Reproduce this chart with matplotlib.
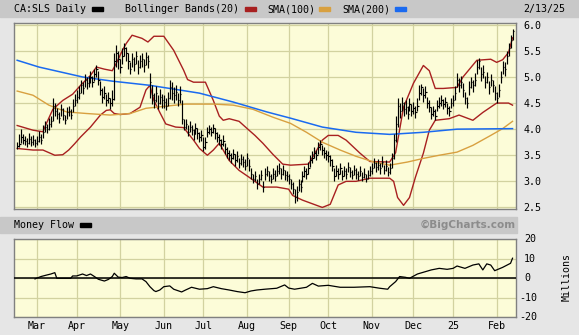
import numpy as np
import pandas as pd
import matplotlib
matplotlib.use("Agg")
import matplotlib.pyplot as plt
from matplotlib.patches import Rectangle

# TSX trading calendar, Feb 15 2024 .. Feb 13 2025
HOLIDAYS = ["2024-02-19", "2024-03-29", "2024-05-20", "2024-07-01", "2024-08-05",
            "2024-09-02", "2024-10-14", "2024-12-25", "2024-12-26", "2025-01-01"]
MONTH_LABELS = ["Mar", "Apr", "May", "Jun", "Jul", "Aug", "Sep", "Oct", "Nov", "Dec", "25", "Feb"]

# daily bars (low, high, close)
feb24 = [(3.62, 3.76, 3.68), (3.66, 3.90, 3.72), (3.74, 4.00, 3.85), (3.72, 3.90, 3.80), (3.70, 3.86, 3.78),
         (3.66, 3.84, 3.74), (3.72, 3.92, 3.82), (3.68, 3.86, 3.76), (3.70, 3.88, 3.79), (3.66, 3.82, 3.73)]
mar24 = [(3.70, 3.86, 3.78), (3.76, 3.96, 3.85), (3.72, 3.90, 3.80), (3.84, 4.08, 3.95), (3.95, 4.15, 4.05),
         (3.92, 4.10, 4.00), (3.98, 4.22, 4.10), (4.05, 4.25, 4.15), (4.15, 4.60, 4.45), (4.25, 4.50, 4.35),
         (4.20, 4.40, 4.30), (4.12, 4.32, 4.22), (4.25, 4.48, 4.38), (4.18, 4.40, 4.28), (4.10, 4.28, 4.18),
         (4.20, 4.42, 4.32), (4.25, 4.45, 4.35), (4.20, 4.38, 4.28), (4.32, 4.58, 4.45), (4.45, 4.68, 4.55)]
apr24 = [(4.50, 4.75, 4.62), (4.58, 4.82, 4.70), (4.70, 4.95, 4.85), (4.68, 4.90, 4.78), (4.80, 5.05, 4.95),
         (4.76, 5.00, 4.88), (4.80, 5.02, 4.92), (4.88, 5.12, 5.00), (4.80, 5.02, 4.90), (4.92, 5.15, 5.05),
         (5.00, 5.22, 5.15), (4.85, 5.12, 4.95), (4.65, 4.92, 4.75), (4.50, 4.78, 4.62), (4.58, 4.82, 4.70),
         (4.45, 4.68, 4.55), (4.50, 4.72, 4.60), (4.38, 4.60, 4.50), (4.45, 4.75, 4.58), (4.55, 5.45, 5.30),
         (5.20, 5.62, 5.45), (5.15, 5.50, 5.35)]
may24 = [(5.08, 5.35, 5.20), (5.25, 5.55, 5.40), (5.40, 5.66, 5.55), (5.30, 5.58, 5.45), (5.15, 5.45, 5.30),
         (5.05, 5.28, 5.15), (5.20, 5.45, 5.35), (5.12, 5.38, 5.25), (5.25, 5.50, 5.40), (5.05, 5.32, 5.20),
         (5.18, 5.42, 5.30), (5.20, 5.46, 5.35), (5.10, 5.35, 5.22), (5.22, 5.48, 5.38), (5.18, 5.42, 5.30),
         (4.60, 5.08, 4.90), (4.48, 4.84, 4.65), (4.40, 4.70, 4.55), (4.52, 4.82, 4.70), (4.38, 4.65, 4.50),
         (4.48, 4.76, 4.62), (4.40, 4.68, 4.55)]
jun24 = [(4.40, 4.66, 4.52), (4.36, 4.60, 4.45), (4.45, 4.72, 4.60), (4.58, 4.95, 4.80), (4.55, 4.90, 4.70),
         (4.50, 4.80, 4.65), (4.55, 4.85, 4.72), (4.45, 4.70, 4.55), (4.50, 4.82, 4.68), (4.10, 4.55, 4.20),
         (3.98, 4.20, 4.05), (4.00, 4.20, 4.10), (3.86, 4.08, 3.95), (3.95, 4.15, 4.05), (3.88, 4.08, 3.98),
         (3.80, 4.00, 3.90), (3.90, 4.12, 4.02), (3.82, 4.02, 3.92), (3.75, 3.95, 3.85), (3.78, 3.98, 3.88)]
jul24 = [(3.58, 3.85, 3.65), (3.62, 3.85, 3.75), (3.85, 4.05, 3.95), (3.90, 4.08, 4.00), (3.86, 4.05, 3.95),
         (3.92, 4.10, 4.02), (3.82, 4.02, 3.92), (3.76, 3.95, 3.85), (3.70, 3.90, 3.80), (3.62, 3.82, 3.72),
         (3.68, 3.88, 3.78), (3.52, 3.74, 3.62), (3.45, 3.65, 3.55), (3.40, 3.60, 3.50), (3.36, 3.55, 3.45),
         (3.42, 3.62, 3.52), (3.30, 3.52, 3.40), (3.38, 3.58, 3.48), (3.25, 3.45, 3.35), (3.32, 3.52, 3.42),
         (3.28, 3.48, 3.38), (3.22, 3.42, 3.30)]
aug24 = [(3.30, 3.55, 3.45), (3.20, 3.42, 3.30), (3.05, 3.25, 3.15), (2.96, 3.15, 3.05), (3.00, 3.20, 3.10),
         (2.85, 3.05, 2.95), (2.95, 3.15, 3.05), (3.02, 3.22, 3.12), (2.80, 3.00, 2.90), (3.02, 3.25, 3.15),
         (3.10, 3.30, 3.20), (3.00, 3.20, 3.10), (2.96, 3.15, 3.05), (3.05, 3.25, 3.15), (3.00, 3.22, 3.10),
         (3.10, 3.32, 3.20), (3.15, 3.36, 3.25), (3.05, 3.25, 3.15), (3.12, 3.32, 3.22), (3.02, 3.22, 3.12),
         (3.00, 3.20, 3.10)]
sep24 = [(2.95, 3.15, 3.05), (2.85, 3.05, 2.95), (2.75, 2.98, 2.85), (2.58, 2.85, 2.70), (2.62, 2.92, 2.80),
         (2.82, 3.05, 2.95), (2.80, 3.02, 2.90), (2.98, 3.20, 3.10), (3.08, 3.30, 3.20), (3.05, 3.25, 3.15),
         (3.15, 3.38, 3.25), (3.28, 3.50, 3.40), (3.35, 3.58, 3.45), (3.45, 3.65, 3.55), (3.40, 3.60, 3.50),
         (3.52, 3.75, 3.65), (3.60, 3.80, 3.72), (3.50, 3.70, 3.60), (3.45, 3.65, 3.55), (3.40, 3.60, 3.50)]
oct24 = [(3.38, 3.58, 3.48), (3.30, 3.50, 3.40), (3.20, 3.42, 3.30), (3.00, 3.25, 3.10), (3.10, 3.32, 3.20),
         (3.05, 3.25, 3.15), (3.15, 3.35, 3.25), (3.02, 3.22, 3.10), (3.10, 3.30, 3.20), (3.05, 3.25, 3.15),
         (3.18, 3.38, 3.28), (3.08, 3.28, 3.18), (3.04, 3.22, 3.12), (3.12, 3.32, 3.22), (3.05, 3.25, 3.15),
         (3.02, 3.20, 3.10), (3.10, 3.30, 3.20), (3.00, 3.18, 3.08), (3.06, 3.25, 3.15), (2.98, 3.15, 3.05),
         (3.04, 3.22, 3.12), (3.10, 3.30, 3.20)]
nov24 = [(3.15, 3.35, 3.25), (3.25, 3.45, 3.35), (3.18, 3.38, 3.28), (3.22, 3.42, 3.32), (3.15, 3.35, 3.25),
         (3.28, 3.48, 3.38), (3.14, 3.32, 3.22), (3.20, 3.40, 3.30), (3.10, 3.28, 3.18), (3.15, 3.35, 3.25),
         (3.25, 3.55, 3.45), (3.42, 3.90, 3.80), (3.75, 4.25, 4.10), (4.05, 4.60, 4.45), (4.22, 4.50, 4.35),
         (4.35, 4.62, 4.50), (4.25, 4.52, 4.38), (4.30, 4.55, 4.42), (4.20, 4.45, 4.30), (4.35, 4.60, 4.48),
         (4.25, 4.48, 4.35)]
dec24 = [(4.30, 4.52, 4.40), (4.22, 4.45, 4.32), (4.35, 4.60, 4.45), (4.55, 4.84, 4.70), (4.65, 4.86, 4.80),
         (4.52, 4.78, 4.65), (4.60, 4.82, 4.72), (4.40, 4.62, 4.50), (4.32, 4.55, 4.42), (4.20, 4.42, 4.30),
         (4.25, 4.45, 4.35), (4.18, 4.38, 4.25), (4.35, 4.55, 4.45), (4.40, 4.62, 4.50), (4.45, 4.65, 4.55),
         (4.38, 4.58, 4.48), (4.42, 4.62, 4.52), (4.30, 4.50, 4.40), (4.25, 4.45, 4.35), (4.40, 4.60, 4.50)]
jan25 = [(4.45, 4.65, 4.55), (4.55, 4.82, 4.70), (4.80, 5.08, 4.95), (4.72, 4.98, 4.85), (4.78, 5.02, 4.90),
         (4.62, 4.88, 4.75), (4.48, 4.72, 4.60), (4.40, 4.62, 4.50), (4.65, 4.92, 4.80), (4.78, 5.00, 4.90),
         (4.72, 4.95, 4.85), (4.82, 5.08, 4.95), (5.05, 5.32, 5.20), (5.15, 5.36, 5.30), (4.92, 5.20, 5.05),
         (4.98, 5.22, 5.10), (4.78, 5.02, 4.90), (4.88, 5.10, 5.00), (4.68, 4.92, 4.80), (4.82, 5.05, 4.95),
         (4.72, 4.95, 4.85), (4.55, 4.82, 4.70)]
feb25 = [(4.50, 4.72, 4.60), (4.62, 4.86, 4.75), (4.88, 5.12, 5.00), (5.05, 5.30, 5.20), (5.02, 5.28, 5.15),
         (5.25, 5.50, 5.40), (5.40, 5.65, 5.55), (5.55, 5.80, 5.70), (5.70, 5.92, 5.88)]

# indicator lines, read at trading-day numbers
bb_up_day = [0, 8, 13, 15, 18, 23, 28, 32, 37, 40, 44, 48, 50, 53, 55, 58, 63, 66, 69, 74, 79, 84, 86, 89, 95,
             99, 102, 104, 107, 112, 117, 120, 124, 129, 134, 138, 147, 152, 154, 157, 162, 166, 173, 178, 188,
             191, 195, 200, 205, 208, 211, 215, 222, 225, 232, 239, 242, 245, 248, 250]
bb_up = [4.07, 3.98, 3.95, 4.13, 4.38, 4.55, 4.67, 4.84, 5.03, 5.19, 5.15, 5.12, 5.26, 5.50, 5.64, 5.80, 5.74,
         5.67, 5.78, 5.78, 5.51, 5.13, 4.95, 4.90, 4.90, 4.55, 4.25, 4.17, 4.20, 4.15, 3.98, 3.88, 3.73, 3.52,
         3.33, 3.31, 3.33, 3.65, 3.79, 3.88, 3.88, 3.79, 3.54, 3.38, 3.37, 3.55, 4.42, 4.88, 5.22, 5.12, 4.78,
         4.78, 4.80, 5.00, 5.32, 5.34, 5.28, 5.33, 5.47, 5.75]
bb_lo_day = [0, 8, 13, 19, 23, 26, 29, 32, 37, 42, 45, 47, 49, 52, 57, 62, 65, 67, 69, 72, 75, 80, 84, 89, 92,
             96, 99, 102, 107, 112, 117, 124, 131, 137, 139, 144, 154, 158, 162, 166, 171, 178, 188, 190, 192,
             195, 198, 201, 205, 208, 211, 218, 223, 230, 235, 242, 248, 250]
bb_lo = [3.63, 3.60, 3.60, 3.50, 3.51, 3.60, 3.72, 3.85, 4.04, 4.27, 4.36, 4.37, 4.30, 4.28, 4.30, 4.42, 4.75,
         4.84, 4.55, 4.32, 4.10, 4.04, 4.03, 3.79, 3.63, 3.50, 3.60, 3.73, 3.40, 3.21, 3.08, 2.89, 2.89, 2.85,
         2.73, 2.64, 2.50, 2.56, 2.93, 3.00, 3.00, 3.06, 3.06, 3.00, 2.69, 2.54, 2.69, 3.08, 3.54, 3.98, 4.17,
         4.20, 4.27, 4.17, 4.32, 4.50, 4.50, 4.46]
sma100_day = [0, 8, 16, 25, 35, 47, 57, 65, 75, 85, 99, 109, 119, 129, 138, 146, 154, 163, 171, 180, 188, 197,
              205, 213, 222, 230, 239, 245, 250]
sma100 = [4.73, 4.65, 4.46, 4.33, 4.30, 4.27, 4.30, 4.40, 4.44, 4.48, 4.48, 4.46, 4.38, 4.23, 4.11, 3.94, 3.75,
          3.60, 3.48, 3.37, 3.31, 3.37, 3.44, 3.50, 3.56, 3.69, 3.88, 4.01, 4.15]
sma200_day = [0, 11, 33, 48, 67, 92, 109, 126, 138, 154, 171, 188, 205, 222, 250]
sma200 = [5.32, 5.19, 5.00, 4.92, 4.84, 4.69, 4.52, 4.33, 4.21, 4.04, 3.94, 3.90, 3.94, 4.00, 4.01]

# money flow (millions)
mf_day = [9, 12, 15, 17, 19, 20, 27, 28, 30, 33, 35, 37, 39, 41, 44, 46, 48, 49, 51, 53, 55, 57, 60, 63, 65,
          67, 69, 70, 72, 74, 77, 79, 83, 85, 88, 92, 96, 99, 103, 107, 111, 115, 118, 121, 125, 131, 135, 137,
          140, 146, 149, 152, 157, 163, 170, 178, 183, 187, 188, 191, 193, 196, 198, 202, 206, 209, 213, 217,
          220, 222, 226, 230, 233, 235, 237, 239, 241, 245, 249, 250]
mf = [-0.3, 0.9, 1.7, 2.2, 2.9, 0.0, 0.0, 1.2, 1.2, 2.2, 1.4, 2.2, 0.9, -0.5, -1.4, -0.6, 0.9, 2.6, 0.6, 0.4,
      0.9, 0.0, -0.3, -0.3, -1.7, -4.3, -6.3, -6.8, -6.0, -4.3, -3.9, -5.6, -7.0, -6.0, -4.6, -5.6, -5.3, -4.3,
      -5.3, -6.0, -6.8, -7.4, -6.5, -6.0, -5.6, -5.1, -3.4, -5.0, -5.6, -4.6, -2.6, -4.0, -3.6, -4.6, -4.6,
      -4.3, -5.1, -5.6, -4.3, -1.7, 0.9, 0.5, 0.0, 2.2, 3.4, 4.3, 5.1, 4.6, 5.1, 6.3, 5.1, 6.8, 7.4, 4.3, 7.4,
      6.8, 3.9, 5.6, 7.7, 10.3]

dates = pd.bdate_range("2024-02-15", "2025-02-13", freq="C", holidays=HOLIDAYS)
lo, hi, cl = np.array(feb24 + mar24 + apr24 + may24 + jun24 + jul24 + aug24 + sep24 + oct24
                      + nov24 + dec24 + jan25 + feb25).T
day = np.arange(len(dates))[:len(cl)]
months = dates.to_period("M")
month_start = np.flatnonzero(months[1:] != months[:-1]) + 1

BG = "#e6e6e6"
BAR = "#c8c8c8"
PLOT_BG = "#fcfcd8"
GRID = "#d2d2a0"
RED = "#a82020"
ORANGE = "#d8a040"
BLUE = "#1a6af0"
FONT = "DejaVu Sans Mono"
FS = 7.2
plt.rcParams["font.family"] = FONT

fig = plt.figure(figsize=(5.79, 3.35), dpi=100)
fig.patch.set_facecolor(BG)
W, H = 579.0, 335.0


def fx(px):
    return px / W


def fy(py):
    return 1 - py / H


# header bars
fig.add_artist(Rectangle((0, fy(17)), 1, 17 / H, transform=fig.transFigure, color=BAR, zorder=0))
fig.add_artist(Rectangle((0, fy(233)), fx(517), 16 / H, transform=fig.transFigure, color=BAR, zorder=0))

ax = fig.add_axes([fx(14), fy(209), fx(515.7 - 14), (209 - 22.7) / H])
ax2 = fig.add_axes([fx(14), fy(317.3), fx(515.7 - 14), (317.3 - 239.3) / H])
xlim = (-1.6, 251.6)

for a in (ax, ax2):
    a.set_facecolor(PLOT_BG)
    a.set_xlim(*xlim)
    a.set_xticks(month_start)
    a.grid(True, color=GRID, lw=0.9)
    a.set_axisbelow(True)
    for s in a.spines.values():
        s.set_color("#808080")
        s.set_linewidth(1.0)
    a.tick_params(length=0, labelsize=FS, colors="#000000")

# price panel
ax.set_ylim(2.47, 6.04)
ax.set_yticks(np.arange(2.5, 6.01, 0.5))
ax.tick_params(axis="y", labelleft=False, labelright=True, pad=5.5)
ax.yaxis.set_major_formatter(matplotlib.ticker.FormatStrFormatter("%.1f"))
ax.tick_params(axis="x", labelbottom=False)

ax.plot(bb_up_day, bb_up, color=RED, lw=1.0, zorder=3)
ax.plot(bb_lo_day, bb_lo, color=RED, lw=1.0, zorder=3)
ax.plot(sma100_day, sma100, color=ORANGE, lw=1.0, zorder=3)
ax.plot(sma200_day, sma200, color=BLUE, lw=1.1, zorder=3)
ax.vlines(day, lo, hi, color="black", lw=0.85, zorder=4)
ax.hlines(cl, day, day + 0.7, color="black", lw=0.85, zorder=4)

# money flow panel
ax2.set_ylim(-20, 20)
ax2.set_yticks([-20, -10, 0, 10, 20])
ax2.tick_params(axis="y", labelleft=False, labelright=False)
ax2.set_xticklabels(MONTH_LABELS)
ax2.tick_params(axis="x", pad=3)
ax2.axhline(0, color="black", lw=1.1, zorder=3)
ax2.plot(mf_day, mf, color="black", lw=0.9, zorder=4)
for v in [-20, -10, 0, 10, 20]:
    off = 6.0 if v >= 0 else 2.4
    ax2.annotate(str(v), xy=(1, v), xycoords=("axes fraction", "data"), xytext=(off, 0),
                 textcoords="offset points", ha="left", va="center", fontsize=FS, annotation_clip=False)
fig.text(fx(567), fy(277), "Millions", rotation=90, ha="center", va="center", fontsize=FS)

# header texts and swatches
ty = fy(9)
fig.text(fx(14), ty, "CA:SLS Daily", fontsize=FS, va="center")
fig.text(fx(125), ty, "Bollinger Bands(20)", fontsize=FS, va="center")
fig.text(fx(267), ty, "SMA(100)", fontsize=FS, va="center")
fig.text(fx(342), ty, "SMA(200)", fontsize=FS, va="center")
fig.text(fx(523), ty, "2/13/25", fontsize=FS, va="center")
for x0, c in [(92, "black"), (245, RED), (319, ORANGE), (395, BLUE)]:
    fig.add_artist(Rectangle((fx(x0), fy(11)), fx(11), 4 / H, transform=fig.transFigure, color=c))

my = fy(225)
fig.text(fx(14), my, "Money Flow", fontsize=FS, va="center")
fig.add_artist(Rectangle((fx(80), fy(227)), fx(11), 4 / H, transform=fig.transFigure, color="black"))
fig.text(fx(516), my, "\u00a9BigCharts.com", fontsize=7.5, va="center", ha="right",
         color="#8c8c8c", fontweight="bold", family="DejaVu Sans")

fig.savefig("out.png", dpi=100, facecolor=fig.get_facecolor())
